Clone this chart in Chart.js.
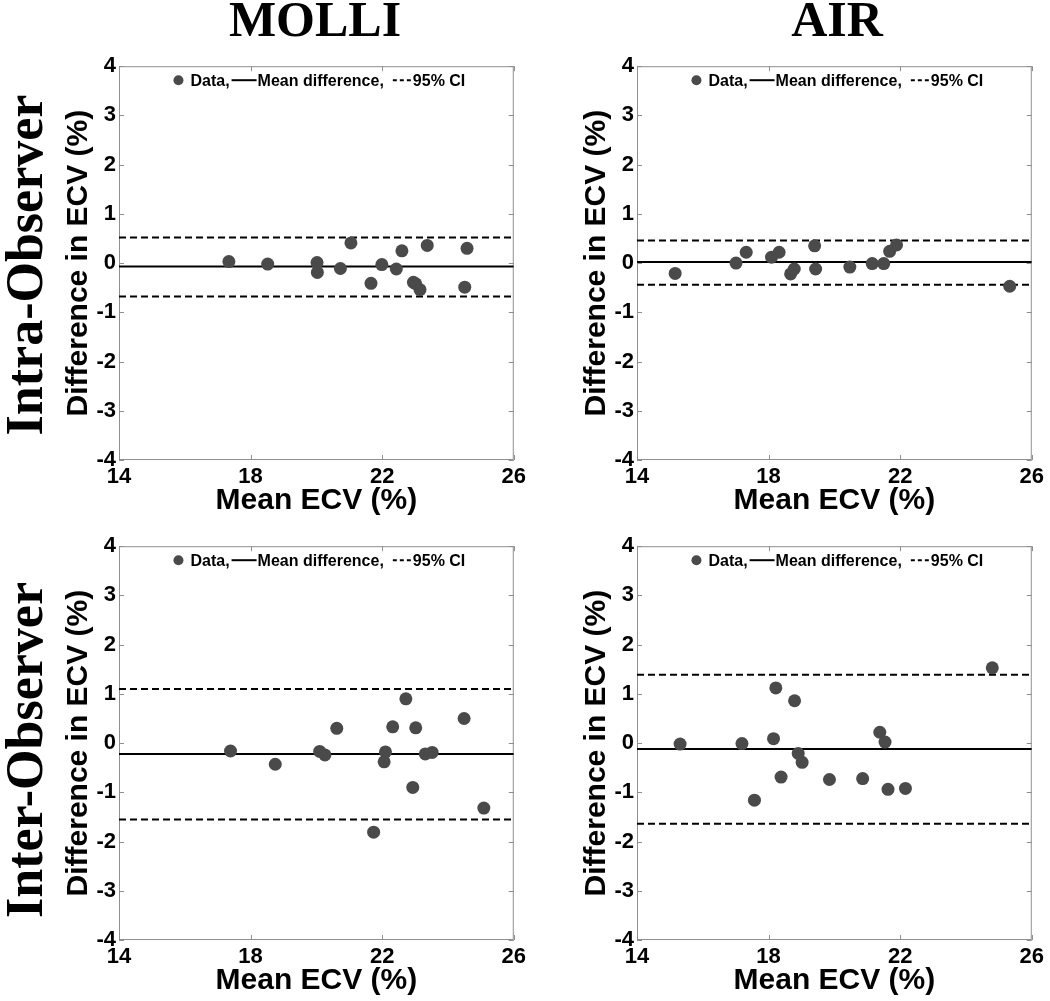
<!DOCTYPE html>
<html>
<head>
<meta charset="utf-8">
<script src="https://cdn.jsdelivr.net/npm/chart.js@4.4.1/dist/chart.umd.min.js"></script>
<style>
  html, body { margin: 0; padding: 0; background: #fff; width: 1050px; height: 1001px; overflow: hidden; position: relative; }
  .panel { position: absolute; }
  .col { position: absolute; top: -6px; font: bold 50px "Liberation Serif", "Times New Roman", serif; line-height: 50px; transform: translateX(-50%); white-space: nowrap; color: #000; }
  .row { position: absolute; left: 25px; font: bold 52px "Liberation Serif", "Times New Roman", serif; line-height: 52px; white-space: nowrap; color: #000; transform: translate(-50%, -50%) rotate(-90deg); }
</style>
</head>
<body>
<div class="col" style="left:315px">MOLLI</div>
<div class="col" style="left:837px">AIR</div>
<div class="row" style="top:265px">Intra-Observer</div>
<div class="row" style="top:750px">Inter-Observer</div>

<canvas id="c1" class="panel" width="475" height="480" style="left:55px;top:50px"></canvas>
<canvas id="c2" class="panel" width="475" height="480" style="left:573px;top:50px"></canvas>
<canvas id="c3" class="panel" width="475" height="480" style="left:55px;top:530px"></canvas>
<canvas id="c4" class="panel" width="475" height="480" style="left:573px;top:530px"></canvas>

<script>
// ejes comunes
const xTicks = [14, 18, 22, 26];
const yTicks = [-4, -3, -2, -1, 0, 1, 2, 3, 4];
const xTitle = 'Mean ECV (%)';
const yTitle = 'Difference in ECV (%)';
const legendText = ['Data,', 'Mean difference,', '95% CI'];

// MOLLI intra-observador
const molliIntraX = [17.34, 18.52, 20.02, 20.03, 20.73, 21.05, 21.66, 21.99, 22.43, 22.60, 22.95, 23.02, 23.15, 23.37, 24.51, 24.58];
const molliIntraY = [0.03, -0.02, 0.01, -0.19, -0.11, 0.41, -0.41, -0.03, -0.12, 0.25, -0.39, -0.42, -0.54, 0.36, -0.49, 0.30];
const molliIntraStats = [-0.07, -0.68, 0.52]; // media, IC inferior, IC superior

// AIR intra-observador
const airIntraX = [15.16, 17.01, 17.32, 18.09, 18.32, 18.67, 18.78, 19.40, 19.43, 20.47, 21.15, 21.50, 21.68, 21.89, 25.33];
const airIntraY = [-0.21, 0.00, 0.22, 0.12, 0.22, -0.22, -0.12, 0.35, -0.12, -0.08, -0.01, -0.01, 0.24, 0.37, -0.47];
const airIntraStats = [0.02, -0.44, 0.46];

// MOLLI inter-observador
const molliInterX = [17.39, 18.75, 20.10, 20.26, 20.62, 21.74, 22.06, 22.10, 22.32, 22.72, 22.93, 23.02, 23.31, 23.52, 24.49, 25.09];
const molliInterY = [-0.16, -0.43, -0.17, -0.24, 0.30, -1.81, -0.38, -0.18, 0.33, 0.90, -0.90, 0.31, -0.22, -0.19, 0.50, -1.32];
const molliInterStats = [-0.22, -1.55, 1.10];

// AIR inter-observador
const airInterX = [15.31, 17.19, 17.57, 18.15, 18.22, 18.38, 18.79, 18.90, 19.02, 19.85, 20.86, 21.38, 21.54, 21.63, 22.16, 24.80];
const airInterY = [-0.02, -0.01, -1.16, 0.09, 1.12, -0.69, 0.86, -0.21, -0.39, -0.74, -0.72, 0.22, 0.02, -0.94, -0.92, 1.53];
const airInterStats = [-0.12, -1.64, 1.39];

const fuente = '"Liberation Sans", Arial, sans-serif';
const grisMarco = '#8f8f8f';
const grisPunto = '#4a4a4a';

// Marco gris con marcas de graduación hacia dentro (estilo MATLAB)
const marcoPlugin = {
    id: 'marco',
    beforeDatasetsDraw(chart) {
        const { ctx, chartArea: a, scales: { x, y } } = chart;
        ctx.save();
        ctx.strokeStyle = grisMarco;
        ctx.lineWidth = 1;
        ctx.strokeRect(a.left + 0.5, a.top + 0.5, a.width - 1, a.height - 1);
        ctx.beginPath();
        xTicks.forEach(v => {
            const px = Math.round(x.getPixelForValue(v)) + 0.5;
            ctx.moveTo(px, a.top); ctx.lineTo(px, a.top + 5);
            ctx.moveTo(px, a.bottom); ctx.lineTo(px, a.bottom - 5);
        });
        yTicks.forEach(v => {
            const py = Math.round(y.getPixelForValue(v)) + 0.5;
            ctx.moveTo(a.left, py); ctx.lineTo(a.left + 5, py);
            ctx.moveTo(a.right, py); ctx.lineTo(a.right - 5, py);
        });
        ctx.stroke();
        ctx.restore();
    }
};

// Leyenda dentro del área del gráfico, en una sola línea
const leyendaPlugin = {
    id: 'leyenda',
    afterDatasetsDraw(chart) {
        const { ctx, chartArea: a } = chart;
        const ds = chart.data.datasets;
        ctx.save();
        ctx.font = 'bold 16px ' + fuente;
        ctx.textBaseline = 'middle';
        ctx.fillStyle = '#000';
        const simbolos = [10, 25, 18];
        const antes = [0, 2, 9];
        const despues = [7, 1, 2];
        let total = 0;
        legendText.forEach((t, i) => { total += antes[i] + simbolos[i] + despues[i] + ctx.measureText(t).width; });
        let x = (a.left + a.right) / 2 - total / 2 + 3;
        const y = a.top + 14;
        legendText.forEach((t, i) => {
            x += antes[i];
            if (i === 0) {
                ctx.fillStyle = ds[0].backgroundColor;
                ctx.beginPath();
                ctx.arc(x + 5, y, 5, 0, Math.PI * 2);
                ctx.fill();
            } else {
                const d = ds[i];
                ctx.strokeStyle = d.borderColor;
                ctx.lineWidth = 2;
                ctx.setLineDash(i === 2 ? [4, 3] : []);
                ctx.beginPath();
                ctx.moveTo(x, y); ctx.lineTo(x + simbolos[i], y);
                ctx.stroke();
                ctx.setLineDash([]);
            }
            x += simbolos[i] + despues[i];
            ctx.fillStyle = '#000';
            ctx.fillText(t, x, y + 1);
            x += ctx.measureText(t).width;
        });
        ctx.restore();
    }
};

function lineaH(valor) {
    return [{ x: xTicks[0], y: valor }, { x: xTicks[xTicks.length - 1], y: valor }];
}

function crearPanel(id, xs, ys, stats) {
    const puntos = xs.map((v, i) => ({ x: v, y: ys[i] }));
    const ctx = document.getElementById(id).getContext('2d');
    new Chart(ctx, {
        type: 'scatter',
        data: {
            datasets: [
                { label: legendText[0], data: puntos, backgroundColor: grisPunto, borderWidth: 0, pointRadius: 6.5 },
                { label: legendText[1], data: lineaH(stats[0]), showLine: true, borderColor: '#000', borderWidth: 2, pointRadius: 0 },
                { label: legendText[2], data: lineaH(stats[2]), showLine: true, borderColor: '#000', borderWidth: 2, borderDash: [7, 4], pointRadius: 0 },
                { label: legendText[2], data: lineaH(stats[1]), showLine: true, borderColor: '#000', borderWidth: 2, borderDash: [7, 4], pointRadius: 0 }
            ]
        },
        options: {
            responsive: false,
            animation: false,
            devicePixelRatio: 1,
            layout: { padding: { left: 0, top: 12, right: 13, bottom: 0 } },
            plugins: { legend: { display: false }, tooltip: { enabled: false } },
            scales: {
                x: {
                    type: 'linear', min: xTicks[0], max: xTicks[xTicks.length - 1],
                    afterBuildTicks: s => { s.ticks = xTicks.map(v => ({ value: v })); },
                    afterFit: s => { s.height = 70; },
                    grid: { display: false, drawTicks: false },
                    border: { display: false },
                    ticks: { color: '#000', padding: 4, maxRotation: 0, autoSkip: false, font: { family: fuente, size: 22, weight: 'bold' } },
                    title: { display: true, text: xTitle, color: '#000', padding: { top: 0, bottom: 11 }, font: { family: fuente, size: 30, weight: 'bold' } }
                },
                y: {
                    type: 'linear', min: yTicks[0], max: yTicks[yTicks.length - 1],
                    afterBuildTicks: s => { s.ticks = yTicks.map(v => ({ value: v })); },
                    afterFit: s => { s.width = 64; },
                    grid: { display: false, drawTicks: false },
                    border: { display: false },
                    ticks: { color: '#000', padding: 3, autoSkip: false, font: { family: fuente, size: 22, weight: 'bold' } },
                    title: { display: true, text: yTitle, color: '#000', padding: { top: 6, bottom: 0 }, font: { family: fuente, size: 30, weight: 'bold' } }
                }
            }
        },
        plugins: [marcoPlugin, leyendaPlugin]
    });
}

crearPanel('c1', molliIntraX, molliIntraY, molliIntraStats);
crearPanel('c2', airIntraX, airIntraY, airIntraStats);
crearPanel('c3', molliInterX, molliInterY, molliInterStats);
crearPanel('c4', airInterX, airInterY, airInterStats);
</script>
</body>
</html>
